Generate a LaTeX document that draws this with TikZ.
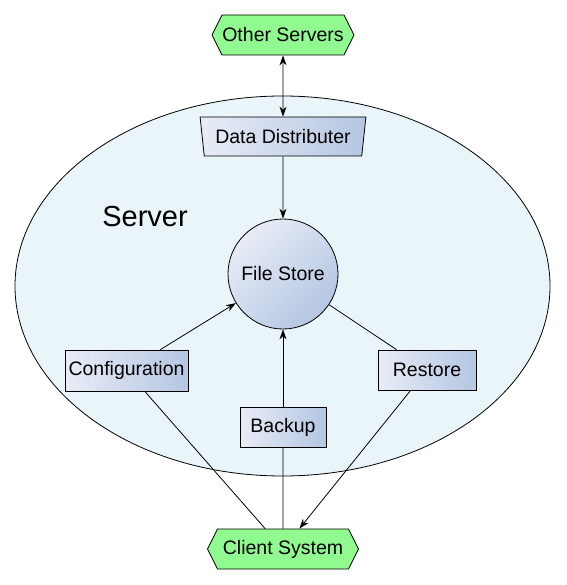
\documentclass[tikz,border=0pt]{standalone}
\usepackage{fontspec}
\setmainfont{Liberation Sans}
\usetikzlibrary{shapes.geometric,shapes.symbols,arrows.meta}
\definecolor{hexgreen}{HTML}{90FA90}
\definecolor{boxL}{HTML}{E8ECF6}
\definecolor{boxR}{HTML}{B4C6E2}
\definecolor{srvfill}{HTML}{EAF5FA}
\begin{document}
\begin{tikzpicture}[x=1pt,y=-1pt,
  every node/.style={font=\fontsize{19.5}{22}\selectfont, inner sep=0pt},
  hexbox/.style={signal, signal to=east and west, signal pointer angle=127, draw, line width=0.8pt, fill=hexgreen, minimum height=40pt},
  gradbox/.style={draw, rectangle, line width=0.8pt, left color=boxL, right color=boxR, minimum height=40pt},
  con/.style={draw, line width=0.8pt},
  arr/.style={con, -{Stealth[length=10pt,width=7pt]}},
  darr/.style={con, {Stealth[length=10pt,width=7pt]}-{Stealth[length=10pt,width=7pt]}}
]
\useasboundingbox (0,0) rectangle (566,585);
\node[draw, ellipse, fill=srvfill, minimum width=535pt, minimum height=380pt, line width=0.8pt] (server) at (282.5,286) {};
\node[font=\fontsize{29}{32}\selectfont] (srvlabel) at (145,217) {Server};
\node[hexbox, minimum width=142pt] (other) at (283,35) {Other Servers};
\node[trapezium, trapezium left angle=76, trapezium right angle=76, shape border rotate=180, trapezium stretches=true, minimum width=166pt, minimum height=39pt, draw, line width=0.8pt, left color=boxL, right color=boxR] (dd) at (283,136.5) {Data Distributer};
\node[circle, draw, line width=0.8pt, minimum size=110pt, top color=boxL, bottom color=boxR, shading angle=45] (fs) at (283,274) {File Store};
\node[gradbox, minimum width=123pt, minimum height=41pt] (config) at (126.5,370.5) {Configuration};
\node[gradbox, minimum width=86pt] (backup) at (283,427) {Backup};
\node[gradbox, minimum width=98pt] (restore) at (427,370) {Restore};
\node[hexbox, minimum width=151pt] (client) at (283,549) {Client System};
\draw[darr] (other) -- (dd);
\draw[arr] (dd) -- (fs);
\draw[arr] (config) -- (fs);
\draw[arr] (backup) -- (fs);
\draw[con] (fs) -- (restore);
\draw[con] (config) -- (client);
\draw[con] (backup) -- (client);
\draw[arr] (restore) -- (client);
\end{tikzpicture}
\end{document}
